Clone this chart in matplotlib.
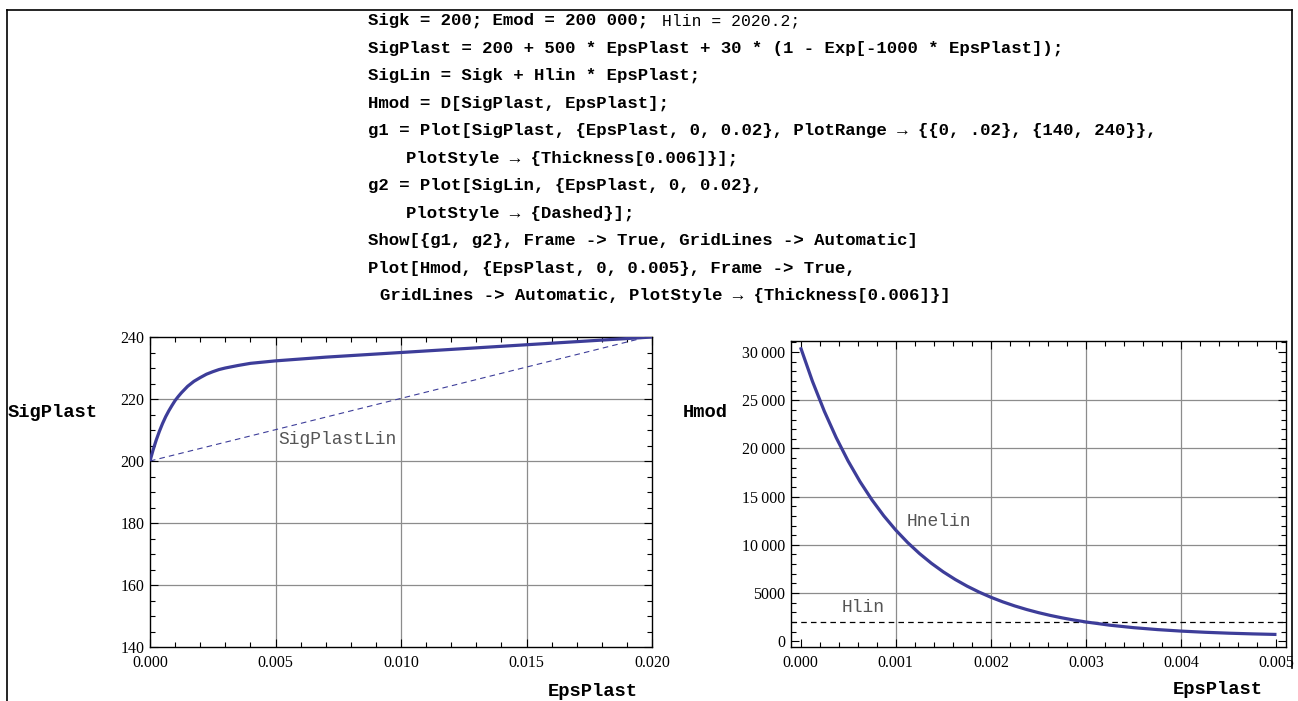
import matplotlib
matplotlib.use("Agg")
import matplotlib.pyplot as plt
from matplotlib.ticker import MultipleLocator, FixedLocator, FixedFormatter
from matplotlib.lines import Line2D

# ---------------- data ----------------
eps_left = [0.0, 0.000125, 0.00025, 0.000375, 0.0005, 0.000625, 0.00075,
            0.000875, 0.001, 0.001125, 0.00125, 0.0015, 0.00175,
            0.002, 0.00225, 0.0025, 0.00275, 0.003, 0.0035, 0.004, 0.0045,
            0.005, 0.006, 0.007, 0.008, 0.010, 0.012, 0.014, 0.016, 0.018,
            0.020]
sig_plast = [200.0, 203.6, 206.8, 209.6, 212.1, 214.3, 216.2,
             217.9, 219.5, 220.8, 222.0, 224.1, 225.7,
             226.9, 228.0, 228.8, 229.5, 230.0, 230.8, 231.5, 231.9,
             232.3, 232.9, 233.5, 234.0, 235.0, 236.0, 237.0, 238.0, 239.0,
             240.0]
eps_lin = [0.0, 0.020]
sig_lin = [200.0, 240.4]

eps_right = [0.0, 0.000125, 0.00025, 0.000375, 0.0005, 0.000625, 0.00075,
             0.000875, 0.001, 0.001125, 0.00125, 0.001375, 0.0015, 0.001625,
             0.00175, 0.001875, 0.002, 0.002125, 0.00225, 0.002375, 0.0025,
             0.002625, 0.00275, 0.002875, 0.003, 0.00325, 0.0035, 0.00375,
             0.004, 0.00425, 0.0045, 0.00475, 0.005]
hmod = [30500, 26975, 23864, 21119, 18696, 16558, 14671,
        13006, 11536, 10240, 9095, 8085, 7194, 6407,
        5713, 5101, 4560, 4083, 3662, 3291, 2963,
        2673, 2418, 2193, 1994, 1663, 1406, 1206,
        1049, 928, 833, 760, 702]
hlin_value = 2020.2

left_xticks = [0.0, 0.005, 0.010, 0.015, 0.020]
left_xlabels = ["0.000", "0.005", "0.010", "0.015", "0.020"]
left_yticks = [140, 160, 180, 200, 220, 240]
left_ylabels = ["140", "160", "180", "200", "220", "240"]
right_xticks = [0.0, 0.001, 0.002, 0.003, 0.004, 0.005]
right_xlabels = ["0.000", "0.001", "0.002", "0.003", "0.004", "0.005"]
right_yticks = [0, 5000, 10000, 15000, 20000, 25000, 30000]
right_ylabels = ["0", "5000", "10\u2009000", "15\u2009000", "20\u2009000",
                 "25\u2009000", "30\u2009000"]

code_lines = [
    "Sigk = 200; Emod = 200 000;",
    "SigPlast = 200 + 500 * EpsPlast + 30 * (1 - Exp[-1000 * EpsPlast]);",
    "SigLin = Sigk + Hlin * EpsPlast;",
    "Hmod = D[SigPlast, EpsPlast];",
    "g1 = Plot[SigPlast, {EpsPlast, 0, 0.02}, PlotRange \u2192 {{0, .02}, {140, 240}},",
    "PlotStyle \u2192 {Thickness[0.006]}];",
    "g2 = Plot[SigLin, {EpsPlast, 0, 0.02},",
    "PlotStyle \u2192 {Dashed}];",
    "Show[{g1, g2}, Frame -> True, GridLines -> Automatic]",
    "Plot[Hmod, {EpsPlast, 0, 0.005}, Frame -> True,",
    "GridLines -> Automatic, PlotStyle \u2192 {Thickness[0.006]}]",
]
code_line1_tail = "Hlin = 2020.2;"

# ---------------- layout ----------------
W, H = 1298, 701
code_x = [368, 368, 368, 368, 368, 406, 368, 406, 368, 368, 380]
code_y0, code_dy = 25, 27.5

plt.rcParams['lines.scale_dashes'] = False
fig = plt.figure(figsize=(W / 100, H / 100), dpi=100)
fig.patch.set_facecolor("white")


def fx(x):
    return x / W


def fy(y):
    return 1 - y / H


MONO = ["Liberation Mono", "DejaVu Sans Mono", "DejaVu Sans"]
SERIF = ["Liberation Serif", "DejaVu Serif"]
BLUE = "#3d3d99"
GRID = "#8c8c8c"

# outer notebook frame
fig.add_artist(Line2D([fx(7), fx(1292)], [fy(10), fy(10)], color="black", lw=1.2))
fig.add_artist(Line2D([fx(7), fx(7)], [fy(10), fy(701)], color="black", lw=1.2))
fig.add_artist(Line2D([fx(1292), fx(1292)], [fy(10), fy(668)], color="black", lw=1.2))

# code text
for i, (line, x) in enumerate(zip(code_lines, code_x)):
    fig.text(fx(x), fy(code_y0 + i * code_dy), line, family=MONO,
             weight="bold", fontsize=12.5, ha="left", va="baseline", color="black")
fig.text(fx(662), fy(code_y0), code_line1_tail, family=MONO, weight="normal",
         fontsize=11.8, ha="left", va="baseline", color="black")


def style_axes(ax, xticks, xlabels, yticks, ylabels, xminor, yminor):
    ax.xaxis.set_major_locator(FixedLocator(xticks))
    ax.xaxis.set_major_formatter(FixedFormatter(xlabels))
    ax.yaxis.set_major_locator(FixedLocator(yticks))
    ax.yaxis.set_major_formatter(FixedFormatter(ylabels))
    ax.xaxis.set_minor_locator(MultipleLocator(xminor))
    ax.yaxis.set_minor_locator(MultipleLocator(yminor))
    ax.tick_params(which="both", direction="in", top=True, right=True,
                   width=0.8, color="black")
    ax.tick_params(which="major", length=6, labelsize=11.5)
    ax.tick_params(axis="x", which="major", pad=6)
    ax.tick_params(axis="y", which="major", pad=4)
    ax.tick_params(which="minor", length=3.5)
    for lab in ax.get_xticklabels() + ax.get_yticklabels():
        lab.set_family(SERIF)
    for sp in ax.spines.values():
        sp.set_linewidth(1.0)
        sp.set_color("black")


# ---------------- left plot ----------------
ax1 = fig.add_axes([fx(150), fy(647), 502 / W, 310 / H])
for gx in left_xticks[1:-1]:
    ax1.axvline(gx, color=GRID, lw=0.9, zorder=1)
for gy in left_yticks[1:-1]:
    ax1.axhline(gy, color=GRID, lw=0.9, zorder=1)
ax1.plot(eps_lin, sig_lin, color=BLUE, lw=0.8, dashes=(4, 3), zorder=2)
ax1.plot(eps_left, sig_plast, color=BLUE, lw=2.3, zorder=3,
         solid_capstyle="butt", solid_joinstyle="round")
ax1.set_xlim(0, 0.02)
ax1.set_ylim(140, 240)
style_axes(ax1, left_xticks, left_xlabels, left_yticks, left_ylabels, 0.001, 5)
ax1.text(0.0051, 206.8, "SigPlastLin", family=MONO, fontsize=13,
         color="#555555", ha="left", va="center")

# ---------------- right plot ----------------
ax2 = fig.add_axes([fx(791), fy(647), 495 / W, 306 / H])
for gx in right_xticks[1:-1]:
    ax2.axvline(gx, color=GRID, lw=0.9, zorder=1)
for gy in right_yticks[1:-1]:
    ax2.axhline(gy, color=GRID, lw=0.9, zorder=1)
ax2.axhline(hlin_value, color="black", lw=0.9, dashes=(4, 3), zorder=2)
ax2.plot(eps_right, hmod, color=BLUE, lw=2.3, zorder=3, solid_capstyle="butt",
         solid_joinstyle="round")
ax2.set_xlim(-0.0001, 0.0051)
ax2.set_ylim(-600, 31150)
style_axes(ax2, right_xticks, right_xlabels, right_yticks, right_ylabels,
           0.0002, 1000)
ax2.text(0.00111, 12473, "Hnelin", family=MONO, fontsize=13,
         color="#555555", ha="left", va="center")
ax2.text(0.000436, 3550, "Hlin", family=MONO, fontsize=13,
         color="#555555", ha="left", va="center")

# axis labels
fig.text(fx(8), fy(412), "SigPlast", family=MONO, weight="bold", fontsize=13.5,
         ha="left", va="center")
fig.text(fx(683), fy(412), "Hmod", family=MONO, weight="bold", fontsize=13.5,
         ha="left", va="center")
fig.text(fx(548), fy(691), "EpsPlast", family=MONO, weight="bold", fontsize=13.5,
         ha="left", va="center")
fig.text(fx(1173), fy(690), "EpsPlast", family=MONO, weight="bold", fontsize=13.5,
         ha="left", va="center")

fig.savefig("out.png", dpi=100, facecolor="white")
